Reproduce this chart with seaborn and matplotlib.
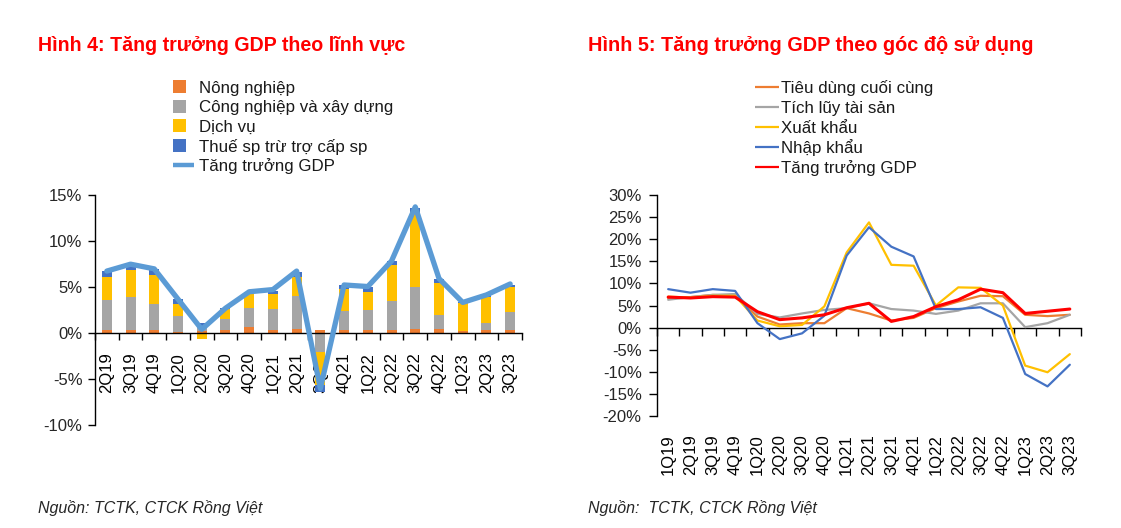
import numpy as np
import pandas as pd
import matplotlib
matplotlib.use("Agg")
import matplotlib.pyplot as plt
import seaborn as sns
from matplotlib.patches import Rectangle
from matplotlib.lines import Line2D
from matplotlib.ticker import FuncFormatter

# ---- Hình 4 data: đóng góp vào tăng trưởng GDP (điểm %) ----
quarters_left = ["2Q19", "3Q19", "4Q19", "1Q20", "2Q20", "3Q20", "4Q20", "1Q21", "2Q21",
                 "3Q21", "4Q21", "1Q22", "2Q22", "3Q22", "4Q22", "1Q23", "2Q23", "3Q23"]
nong_nghiep = [0.35, 0.30, 0.30, 0.10, 0.25, 0.35, 0.65, 0.35, 0.45,
               0.35, 0.35, 0.30, 0.30, 0.45, 0.45, 0.20, 0.35, 0.35]
cong_nghiep = [3.25, 3.60, 2.80, 1.80, 0.55, 1.15, 2.05, 2.25, 3.60,
               -2.10, 2.05, 2.20, 3.20, 4.55, 1.55, 0.05, 0.75, 1.95]
dich_vu = [2.50, 3.00, 3.20, 1.30, -0.70, 1.10, 1.60, 1.60, 2.05,
           -3.50, 2.40, 2.00, 3.85, 8.00, 3.45, 3.00, 2.80, 2.70]
thue_sp = [0.65, 0.50, 0.70, 0.45, 0.30, 0.10, 0.20, 0.40, 0.50,
           -0.80, 0.40, 0.50, 0.45, 0.60, 0.40, 0.10, 0.25, 0.25]
gdp_left = [6.73, 7.48, 6.97, 3.68, 0.39, 2.69, 4.48, 4.72, 6.73,
            -6.03, 5.22, 5.05, 7.83, 13.71, 5.92, 3.32, 4.14, 5.33]

# ---- Hình 5 data: tăng trưởng theo góc độ sử dụng (%) ----
quarters_right = ["1Q19", "2Q19", "3Q19", "4Q19", "1Q20", "2Q20", "3Q20", "4Q20", "1Q21", "2Q21",
                  "3Q21", "4Q21", "1Q22", "2Q22", "3Q22", "4Q22", "1Q23", "2Q23", "3Q23"]
tieu_dung = [6.7, 6.9, 7.4, 7.2, 2.5, 0.7, 1.0, 1.0, 4.4, 3.2,
             1.6, 2.2, 4.4, 5.9, 7.2, 7.1, 2.9, 2.6, 2.9]
tich_luy = [6.3, 6.9, 7.4, 7.6, 3.1, 2.3, 3.2, 4.0, 4.4, 5.5,
            4.2, 3.85, 3.1, 3.85, 5.5, 5.5, 0.1, 1.0, 2.9]
xuat_khau = [7.0, 6.8, 7.2, 7.2, 1.6, 0.3, 0.6, 4.8, 17.0, 23.8,
             14.2, 14.0, 5.0, 9.1, 9.0, 5.0, -8.6, -10.1, -6.0]
nhap_khau = [8.7, 7.9, 8.7, 8.3, 1.0, -2.6, -1.3, 2.7, 16.3, 22.7,
             18.3, 16.1, 4.2, 4.2, 4.6, 2.2, -10.5, -13.3, -8.4]
gdp_right = [6.9, 6.7, 7.0, 6.9, 3.6, 1.8, 2.2, 2.9, 4.5, 5.5,
             1.4, 2.5, 4.75, 6.3, 8.7, 7.9, 3.2, 3.7, 4.2]

sector_labels = ["Nông nghiệp", "Công nghiệp và xây dựng", "Dịch vụ", "Thuế sp trừ trợ cấp sp"]
sector_colors = ["#ED7D31", "#A5A5A5", "#FFC000", "#4472C4"]
use_labels = ["Tiêu dùng cuối cùng", "Tích lũy tài sản", "Xuất khẩu", "Nhập khẩu", "Tăng trưởng GDP"]
use_colors = ["#ED7D31", "#A5A5A5", "#FFC000", "#4472C4", "#FF0000"]
gdp_bar_line = "#5B9BD5"

sns.set_theme(style="white")
plt.rcParams["font.family"] = ["Liberation Sans", "DejaVu Sans"]
plt.rcParams["axes.linewidth"] = 1.0

W, H = 1121, 528
fig = plt.figure(figsize=(W / 100, H / 100), dpi=100)
pct = FuncFormatter(lambda v, p: f"{v:.0f}%")
tick_fs = 12
legend_fs = 12.2


def fx(px):
    return px / W


def fy(py):
    return 1 - py / H


# chú giải vẽ tay để các dòng cách đều nhau (dấu tiếng Việt làm lệch legend)
def legend_text(x_px, y_px, label):
    fig.text(fx(x_px), fy(y_px + 6), label, fontsize=legend_fs, va="baseline", color="#1a1a1a")


# ================= Hình 4 =================
ax1 = fig.add_axes([0.0847, 0.1951, 0.381, 0.4356])
ax1.spines["bottom"].set_position(("data", 0))
x1 = np.arange(len(quarters_left))
comps = np.array([nong_nghiep, cong_nghiep, dich_vu, thue_sp])
pos_bottom = np.zeros(len(x1))
neg_bottom = np.zeros(len(x1))
for vals, col in zip(comps, sector_colors):
    bottom = np.where(vals >= 0, pos_bottom, neg_bottom)
    ax1.bar(x1, vals, bottom=bottom, width=0.42, color=col, linewidth=0, zorder=2)
    pos_bottom += np.clip(vals, 0, None)
    neg_bottom += np.clip(vals, None, 0)

df_left = pd.DataFrame({"x": x1, "gdp": gdp_left})
sns.lineplot(data=df_left, x="x", y="gdp", ax=ax1, color=gdp_bar_line, linewidth=3.8, zorder=3)

ax1.set_xlim(-0.5, len(x1) - 0.5)
ax1.set_ylim(-10, 15)
ax1.set_yticks([-10, -5, 0, 5, 10, 15])
ax1.yaxis.set_major_formatter(pct)
ax1.set_xticks(x1)
ax1.set_xticklabels(quarters_left, rotation=90)
ax1.set_xticks(np.arange(-0.5, len(x1)), minor=True)
ax1.spines["top"].set_visible(False)
ax1.spines["right"].set_visible(False)
ax1.spines["left"].set_color("black")
ax1.spines["bottom"].set_color("black")
ax1.tick_params(axis="x", which="major", length=0, labelsize=tick_fs, pad=14, colors="black")
ax1.tick_params(axis="x", which="minor", length=5, direction="out", width=1, color="black", bottom=True)
ax1.tick_params(axis="y", length=5, direction="out", width=1, labelsize=tick_fs, color="black",
                left=True, pad=4)
ax1.set_xlabel("")
ax1.set_ylabel("")

rows1 = [86.7, 106.2, 125.8, 145.6, 165.2]
for yc, col, lab in zip(rows1[:4], sector_colors, sector_labels):
    fig.add_artist(Rectangle((fx(173), fy(yc + 6.5)), fx(13), 13 / H, transform=fig.transFigure,
                             facecolor=col, edgecolor="none"))
    legend_text(199, yc, lab)
fig.add_artist(Line2D([fx(173), fx(194)], [fy(rows1[4]), fy(rows1[4])], transform=fig.transFigure,
                      color=gdp_bar_line, linewidth=3.2, solid_capstyle="butt"))
legend_text(199, rows1[4], "Tăng trưởng GDP")

# ================= Hình 5 =================
ax2 = fig.add_axes([0.5861, 0.2121, 0.3782, 0.4186])
x2 = np.arange(len(quarters_right))
df_right = pd.DataFrame({
    "x": np.tile(x2, 5),
    "value": np.concatenate([tieu_dung, tich_luy, xuat_khau, nhap_khau, gdp_right]),
    "series": np.repeat(use_labels, len(x2)),
})
sns.lineplot(data=df_right, x="x", y="value", hue="series", hue_order=use_labels,
             palette=dict(zip(use_labels, use_colors)), linewidth=1.6, ax=ax2, legend=False)
# đường GDP đậm hơn
ax2.lines[-1].set_linewidth(2.2)

ax2.set_xlim(-0.5, len(x2) - 0.5)
ax2.set_ylim(-20, 30)
ax2.set_yticks(np.arange(-20, 31, 5))
ax2.yaxis.set_major_formatter(pct)
ax2.set_xticks(x2)
ax2.set_xticklabels(quarters_right, rotation=90)
ax2.spines["top"].set_visible(False)
ax2.spines["right"].set_visible(False)
ax2.spines["bottom"].set_visible(False)
ax2.spines["left"].set_color("black")
ax2.tick_params(axis="x", length=0, labelsize=tick_fs, pad=13, colors="black")
ax2.tick_params(axis="y", length=6, direction="out", width=1, labelsize=tick_fs, color="black",
                left=True, pad=5)
ax2.set_xlabel("")
ax2.set_ylabel("")
# trục hoành tại mức 0%
zero_axis = ax2.secondary_xaxis(0.4)
zero_axis.set_xticks(np.arange(-0.5, len(x2)))
zero_axis.tick_params(axis="x", length=6, direction="out", width=1, color="black", labelbottom=False)
zero_axis.spines["bottom"].set_color("black")

rows2 = [86.7, 106.7, 126.7, 146.7, 166.7]
for yc, col, lab in zip(rows2, use_colors, use_labels):
    fig.add_artist(Line2D([fx(755), fx(779)], [fy(yc), fy(yc)], transform=fig.transFigure,
                          color=col, linewidth=1.6, solid_capstyle="butt"))
    legend_text(781, yc, lab)

# ---- Tiêu đề & nguồn ----
fig.text(0.034, 0.913, "Hình 4: Tăng trưởng GDP theo lĩnh vực", color="#FF0000",
         fontsize=14.1, fontweight="bold", va="center")
fig.text(0.5245, 0.913, "Hình 5: Tăng trưởng GDP theo góc độ sử dụng", color="#FF0000",
         fontsize=14.3, fontweight="bold", va="center")
fig.text(0.034, 0.038, "Nguồn: TCTK, CTCK Rồng Việt", fontsize=11.5, style="italic", va="center")
fig.text(0.5245, 0.038, "Nguồn:  TCTK, CTCK Rồng Việt", fontsize=11.5, style="italic", va="center")

fig.savefig("out.png", dpi=100)
